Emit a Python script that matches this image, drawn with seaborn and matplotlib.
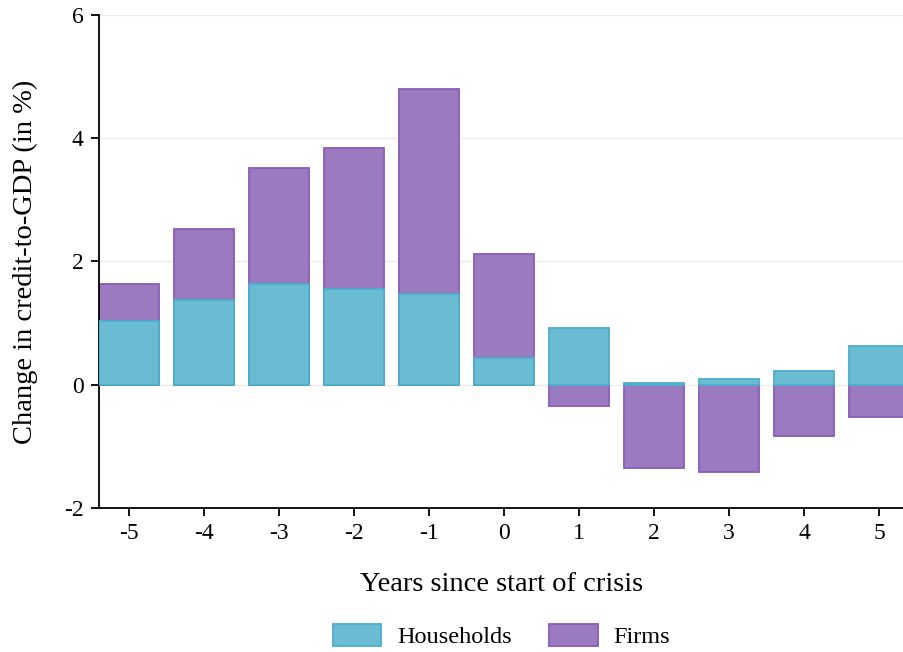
import numpy as np
import matplotlib.pyplot as plt
import seaborn as sns

# Change in credit-to-GDP around crisis start, by sector
years = [-5, -4, -3, -2, -1, 0, 1, 2, 3, 4, 5]
households = [1.03, 1.37, 1.63, 1.55, 1.47, 0.44, 0.92, 0.02, 0.09, 0.22, 0.63]
firms = [0.60, 1.15, 1.89, 2.29, 3.33, 1.68, -0.35, -1.35, -1.41, -0.84, -0.52]

HH_FILL, HH_EDGE = "#6bbbd3", "#4aaecd"
FI_FILL, FI_EDGE = "#9b7bc0", "#8a5bb9"


def main():
    sns.set_theme(style="white")
    plt.rcParams["font.family"] = ["Liberation Serif", "DejaVu Serif"]
    plt.rcParams["axes.unicode_minus"] = False
    plt.rcParams["text.color"] = "black"
    plt.rcParams["axes.labelcolor"] = "black"
    plt.rcParams["xtick.color"] = "black"
    plt.rcParams["ytick.color"] = "black"

    fig = plt.figure(figsize=(9.04, 6.52), dpi=100)
    ax = fig.add_axes([0.1095, 0.221, 0.8905, 0.756])

    # firms are stacked on top of households when positive, hang from zero otherwise
    hh = np.array(households)
    fi = np.array(firms)
    firms_top = np.where(fi > 0, hh + fi, fi)

    sns.barplot(x=years, y=firms_top, native_scale=True, width=0.8,
                color=FI_FILL, edgecolor=FI_EDGE, linewidth=1.3,
                saturation=1, label="Firms", ax=ax, zorder=2)
    sns.barplot(x=years, y=hh, native_scale=True, width=0.8,
                color=HH_FILL, edgecolor=HH_EDGE, linewidth=1.3,
                saturation=1, label="Households", ax=ax, zorder=3)

    ax.set_xlim(-5.4, 5.33)
    ax.set_ylim(-2, 6)
    ax.set_xticks(years)
    ax.set_xticklabels([str(y) for y in years])
    ax.set_yticks([-2, 0, 2, 4, 6])

    ax.yaxis.grid(True, color="#ebebeb", linewidth=1.0, zorder=0)
    ax.set_axisbelow(True)
    for s in ["top", "right"]:
        ax.spines[s].set_visible(False)
    for s in ["left", "bottom"]:
        ax.spines[s].set_color("black")
        ax.spines[s].set_linewidth(1.3)

    ax.tick_params(axis="both", which="major", direction="out", length=6,
                   width=1.3, color="black", labelsize=17, bottom=True, left=True,
                   pad=5)

    ax.set_xlabel("Years since start of crisis", fontsize=20.5, labelpad=20)
    ax.set_ylabel("Change in credit-to-GDP (in %)", fontsize=20.5, labelpad=19)

    handles, labels = ax.get_legend_handles_labels()
    order = [labels.index("Households"), labels.index("Firms")]
    ax.legend([handles[i] for i in order], [labels[i] for i in order],
              loc="center", bbox_to_anchor=(0.5, -0.26), ncol=2, frameon=False,
              fontsize=17.5, handlelength=2.0, handleheight=1.0, columnspacing=1.55,
              handletextpad=0.65)

    fig.savefig("out.png", dpi=100)


if __name__ == "__main__":
    main()
